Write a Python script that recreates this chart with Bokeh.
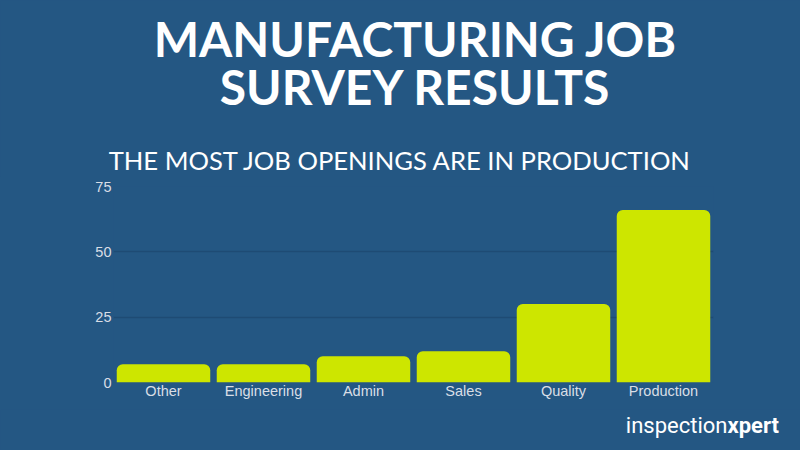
from bokeh.plotting import figure
from bokeh.models import FixedTicker, Range1d
from bokeh.core.properties import value
from bokeh.embed import file_html
from bokeh.resources import INLINE

categories = ["Other", "Engineering", "Admin", "Sales", "Quality", "Production"]
openings = [7, 7, 10, 12, 30, 66]
y_ticks = [0, 25, 50, 75]

title_lines = ["MANUFACTURING JOB", "SURVEY RESULTS"]
subtitle = "THE MOST JOB OPENINGS ARE IN PRODUCTION"
logo_light, logo_bold = "inspection", "xpert"

BG = "#245783"
BAR = "#cde600"
GRID = "#1e4b74"
TICK = "#d9dee6"
W = 800
HEAD_H, CHART_H, FOOT_H = 176, 233, 41


def blank(h):
    f = figure(title=None, width=W, height=h,
               x_range=Range1d(0, W), y_range=Range1d(h, 0),
               output_backend="svg", toolbar_location=None,
               min_border=0, min_border_left=0, min_border_right=0,
               min_border_top=0, min_border_bottom=0)
    f.axis.visible = False
    f.grid.visible = False
    f.outline_line_color = None
    f.background_fill_color = BG
    f.border_fill_color = BG
    f.styles = {"background-color": BG}
    return f


# header (text y positions compensate the ~0.4em baseline shift of the text glyph)
head = blank(HEAD_H)
head.text(x=[415, 415], y=[38, 86], text=title_lines, text_align="center",
          text_baseline="alphabetic", text_color="white", text_font=value("Lato"),
          text_font_style="bold", text_font_size="48px")
head.text(x=[400], y=[159], text=[subtitle], text_align="center",
          text_baseline="alphabetic", text_color="white", text_font=value("Lato"),
          text_font_size="25.6px")

# chart
p = figure(title=None, x_range=categories, y_range=Range1d(0, 75),
           width=W, height=CHART_H,
           output_backend="svg", toolbar_location=None,
           min_border_left=113, min_border_right=87, min_border_top=10, min_border_bottom=27)
p.background_fill_color = None
p.border_fill_color = BG
p.outline_line_color = None
p.styles = {"background-color": BG}

p.vbar(x=categories, top=openings, width=0.935, color=BAR, line_color=None,
       border_radius=(6, 6, 0, 0))

p.xgrid.grid_line_color = None
p.ygrid.grid_line_color = GRID
p.ygrid.grid_line_width = 1.5
p.yaxis.ticker = FixedTicker(ticks=y_ticks)
for ax in (p.xaxis, p.yaxis):
    ax.axis_line_color = None
    ax.major_tick_line_color = None
    ax.minor_tick_line_color = None
    ax.major_label_text_color = TICK
    ax.major_label_text_font = "Liberation Sans"
    ax.major_label_text_font_size = "14.5px"
p.yaxis.major_label_standoff = -4
p.xaxis.major_label_standoff = -6

# footer with logo text
foot = blank(FOOT_H)
foot.text(x=[727], y=[16], text=[logo_light], text_align="right",
          text_baseline="alphabetic", text_color="white", text_font=value("Roboto"),
          text_font_size="22px")
foot.text(x=[727], y=[16], text=[logo_bold], text_align="left",
          text_baseline="alphabetic", text_color="white", text_font=value("Roboto"),
          text_font_style="bold", text_font_size="22px")

html = file_html([head, p, foot], INLINE)
html = html.replace("<body>", '<body style="margin:0;background:%s">' % BG, 1)
open("out.html", "w").write(html)
